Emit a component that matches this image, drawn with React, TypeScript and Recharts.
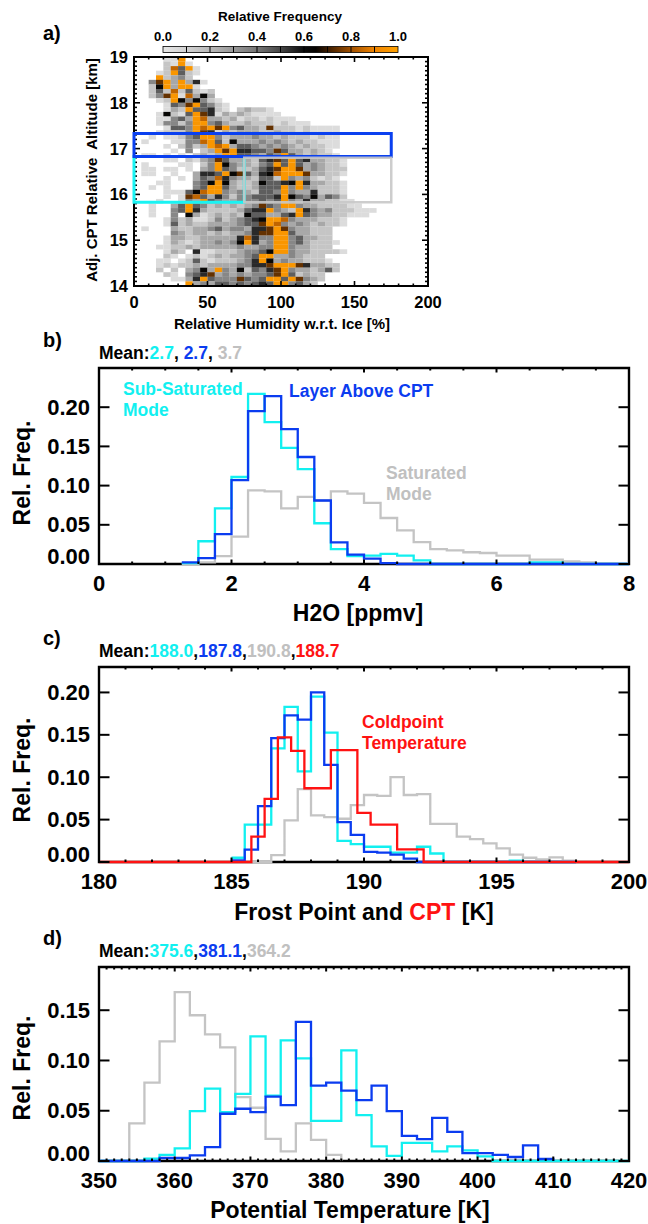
import React from 'react';
import { LineChart, Line, XAxis, YAxis, ReferenceArea, ScatterChart, Scatter } from 'recharts';

const FONT = '"Liberation Sans", Arial, Helvetica, sans-serif';
const CYAN = '#12f0f0';
const BLUE = '#0b3cf0';
const GRAY = '#c4c4c4';
const RED = '#ff1212';

// ---------- panel a: RHi vs CPT-relative altitude, row-normalised frequency ----------
const RH_CENTERS = [2.5, 7.5, 12.5, 17.5, 22.5, 27.5, 32.5, 37.5, 42.5, 47.5, 52.5, 57.5, 62.5, 67.5, 72.5, 77.5, 82.5, 87.5, 92.5, 97.5, 102.5, 107.5, 112.5, 117.5, 122.5, 127.5, 132.5, 137.5, 142.5, 147.5, 152.5, 157.5, 162.5, 167.5, 172.5, 177.5];
const ALT_CENTERS = [18.95, 18.85, 18.75, 18.65, 18.55, 18.45, 18.35, 18.25, 18.15, 18.05, 17.95, 17.85, 17.75, 17.65, 17.55, 17.45, 17.35, 17.25, 17.15, 17.05, 16.95, 16.85, 16.75, 16.65, 16.55, 16.45, 16.35, 16.25, 16.15, 16.05, 15.95, 15.85, 15.75, 15.65, 15.55, 15.45, 15.35, 15.25, 15.15, 15.05, 14.95, 14.85, 14.75, 14.65, 14.55, 14.45, 14.35, 14.25, 14.15, 14.05];
// one string per altitude row (top first), one char per RH bin: '.' empty, '1'..'a' frequency level
const HEAT_ROWS = [
  '....11a',
  '....21a1',
  '....295a1',
  '...12a521',
  '...a2342',
  '..48a3a361',
  '..27a3aa1',
  '..252925212',
  '..248a19373',
  '...12a747421',
  '....1548a5421',
  '....132a55621.23221',
  '...17215a86132321111',
  '...11453a9332312212111',
  '...14424aa45322322212111',
  '....1554a9a8a453328222121111',
  '...12224a8613233322322121111',
  '..1.11245aa42333433232221211',
  '.1...11449a52733343432322111',
  '....1.2423a9a355434343232211',
  '.....1.4.23a8a6655485332321',
  '.11.1.1.2323aa554354a5323221',
  '....11.21348533325685a5633221',
  '.1....11.24a7433245a5a5343221',
  '.11.11.1.34a54223568aa8343222',
  '.11..1..3665a7853679aaa833221',
  '....1.1.354964332552a4342121',
  '...11...457a7322375567a633221',
  '..1.1...45aa53223555a4a432221',
  '....111579aa43432554a43362221',
  '....1.18953642445556a75473542',
  '...1..143a5433444545a436332211',
  '..1..35a542323234854aa433222211',
  '..1..45a6322223566a432a6434222111',
  '..1..4.731232327553356a543322111',
  '....14231124234567aa943332221',
  '....15232233334558a9434323221',
  '.1...32233453443668a8433222',
  '.....43233232334688aa533222',
  '....133223333369644aa453322',
  '....13212334347a634aa4532221',
  '...1122323333343344aa433222',
  '....132.61122234457aa43322221',
  '....21.1212323345aa3343222',
  '...11.12521222346a734332221',
  '...1212232333344668aaa863322',
  '...2.2.3473a43725468a4332352',
  '....21.4568343434458a52322',
  '.....1136a54448545aa5a8432',
  '.......a34355454565aa4532',
];
const LEVELS: Record<string, number> = { '1': 0.05, '2': 0.15, '3': 0.25, '4': 0.35, '5': 0.45, '6': 0.55, '7': 0.63, '8': 0.74, '9': 0.84, a: 0.96 };

const COLOR_STOPS: [number, string][] = [
  [0.0, '#e6e6e6'], [0.1, '#d2d2d2'], [0.2, '#b8b8b8'], [0.3, '#989898'], [0.4, '#767676'],
  [0.5, '#464646'], [0.6, '#0c0c0c'], [0.65, '#060300'], [0.7, '#3c1c00'], [0.8, '#a05000'],
  [0.9, '#f08400'], [1.0, '#ffa200'],
];
const CB_LABELS = ['0.0', '0.2', '0.4', '0.6', '0.8', '1.0'];

// selection boxes of panel a: [rh1, rh2, alt1, alt2]
const BOX_SUB = [0, 75, 15.83, 16.83];
const BOX_ABOVE = [0, 175, 16.83, 17.33];
const BOX_SAT = [75, 175, 15.83, 16.8];

// ---------- panel b: H2O ----------
const H2O_EDGES = [1.25, 1.5, 1.75, 2, 2.25, 2.5, 2.75, 3, 3.25, 3.5, 3.75, 4, 4.25, 4.5, 4.75, 5, 5.25, 5.5, 5.75, 6, 6.25, 6.5, 6.75, 7, 7.25, 7.5, 7.75, 8];
const H2O_SUB = [0.001, 0.029, 0.071, 0.111, 0.217, 0.181, 0.148, 0.121, 0.052, 0.019, 0.010, 0.0106, 0.0128, 0.0106, 0.0047, 0, 0, 0, 0, 0, 0, 0.002, 0.002, 0, 0, 0, 0];
const H2O_ABOVE = [0.002, 0.0076, 0.038, 0.107, 0.195, 0.214, 0.172, 0.1365, 0.081, 0.0276, 0.0119, 0.0068, 0.001, 0, 0, 0, 0, 0, 0, 0, 0, 0, 0, 0, 0, 0, 0];
const H2O_SAT = [0, 0.002, 0.010, 0.035, 0.094, 0.0927, 0.071, 0.0855, 0.081, 0.0927, 0.0897, 0.078, 0.0587, 0.043, 0.028, 0.019, 0.0174, 0.015, 0.014, 0.0106, 0.0106, 0.0055, 0.0055, 0.0034, 0.002, 0.001, 0.001];
const H2O_TICKS = [0, 2, 4, 6, 8];

// ---------- panel c: frost point & CPT ----------
const FP_EDGES = [185, 185.5, 186, 186.5, 187, 187.5, 188, 188.5, 189, 189.5, 190, 190.5, 191, 191.5, 192, 192.5, 193, 193.5, 194, 194.5, 195, 195.5, 196, 196.5, 197, 197.5, 198];
const FP_SUB = [0.005, 0.044, 0.044, 0.134, 0.183, 0.107, 0.195, 0.1525, 0.025, 0.021, 0.018, 0.018, 0.011, 0.011, 0.018, 0.010, 0, 0, 0, 0, 0, 0.0015, 0, 0, 0, 0];
const FP_ABOVE = [0.002, 0.0145, 0.066, 0.146, 0.173, 0.168, 0.200, 0.1145, 0.047, 0.032, 0.012, 0.011, 0.0086, 0.004, 0, 0, 0, 0, 0, 0, 0, 0, 0, 0, 0, 0];
const FP_SAT = [0, 0, 0, 0.008, 0.049, 0.086, 0.055, 0.053, 0.051, 0.067, 0.079, 0.078, 0.100, 0.079, 0.080, 0.045, 0.045, 0.030, 0.027, 0.022, 0.016, 0.0086, 0.005, 0.003, 0.0055, 0.0015];
const CPT_EDGES = [180, 185.75, 186.25, 186.75, 187.25, 187.75, 188.25, 188.75, 189.25, 189.75, 190.25, 190.75, 191.25, 191.75, 192.25, 200];
const CPT_FREQ = [0, 0.030, 0.0745, 0.147, 0.131, 0.087, 0.087, 0.132, 0.132, 0.058, 0.044, 0.044, 0.015, 0.015, 0];
const FP_TICKS = [180, 185, 190, 195, 200];

// ---------- panel d: potential temperature ----------
const TH_EDGES = [350, 352, 354, 356, 358, 360, 362, 364, 366, 368, 370, 372, 374, 376, 378, 380, 382, 384, 386, 388, 390, 392, 394, 396, 398, 400, 402, 404, 406, 408, 410, 412, 414, 416, 418, 420];
const TH_SAT = [0, 0, 0.0375, 0.078, 0.119, 0.168, 0.145, 0.126, 0.113, 0.0635, 0.053, 0.022, 0.0095, 0.0375, 0.021, 0.006];
const TH_SUB = [0, 0, 0, 0.0023, 0.006, 0.0125, 0.0497, 0.072, 0.0487, 0.0668, 0.124, 0.065, 0.120, 0.102, 0.040, 0.040, 0.110, 0.0457, 0.0145, 0.005, 0.018, 0.018, 0.0095, 0.0145, 0.0105, 0.0046, 0, 0, 0, 0, 0, 0, 0, 0, 0];
const TH_ABOVE = [0, 0, 0, 0, 0.003, 0.003, 0.0056, 0.0138, 0.047, 0.052, 0.0487, 0.064, 0.0556, 0.1385, 0.075, 0.078, 0.070, 0.0605, 0.075, 0.0497, 0.025, 0.0217, 0.043, 0.029, 0.0079, 0.0079, 0.006, 0.004, 0.0155, 0.002];
const TH_TICKS = [350, 360, 370, 380, 390, 400, 410, 420];

const FREQ_TICKS_BC = [0, 0.05, 0.1, 0.15, 0.2];
const FREQ_TICKS_D = [0, 0.05, 0.1, 0.15];

// ---------- helpers ----------
function range(a: number, b: number, step: number) {
  const out: number[] = [];
  for (let v = a; v <= b + 1e-9; v += step) out.push(Math.round(v * 1000) / 1000);
  return out;
}

function steps(edges: number[], values: number[]) {
  const pts = values.map((v, i) => ({ x: edges[i], y: v }));
  pts.push({ x: edges[values.length], y: 0 });
  return pts;
}

function isMajor(v: number, majors: number[]) {
  return majors.some((m) => Math.abs(m - v) < 1e-6);
}

function hex(c: string) {
  return [1, 3, 5].map((i) => parseInt(c.slice(i, i + 2), 16));
}

function heatColor(v: number) {
  for (let i = 1; i < COLOR_STOPS.length; i++) {
    const [v1, c1] = COLOR_STOPS[i];
    const [v0, c0] = COLOR_STOPS[i - 1];
    if (v <= v1) {
      const t = (v - v0) / (v1 - v0);
      const a = hex(c0);
      const b = hex(c1);
      return `rgb(${a.map((x, k) => Math.round(x + (b[k] - x) * t)).join(',')})`;
    }
  }
  return COLOR_STOPS[COLOR_STOPS.length - 1][1];
}

const HEAT_CELLS = HEAT_ROWS.flatMap((row, i) =>
  row.split('').flatMap((ch, j) => (ch === '.' ? [] : [{ x: RH_CENTERS[j], y: ALT_CENTERS[i], v: LEVELS[ch] }]))
);

type TickCfg = {
  majors: number[];
  plotW: number;
  plotH: number;
  len: number;
  minorLen: number;
  fs: number;
  gap: number;
  fmt: (v: number) => string;
  zeroLift?: number;
  tw?: number;
};

function makeXTick(c: TickCfg) {
  return (props: any) => {
    const { x, y, payload } = props;
    const v = payload.value;
    const major = isMajor(v, c.majors);
    const L = major ? c.len : c.minorLen;
    const tw = c.tw ?? 2;
    return (
      <g>
        <line x1={x} y1={y} x2={x} y2={y - L} stroke="#000" strokeWidth={tw} />
        <line x1={x} y1={y - c.plotH} x2={x} y2={y - c.plotH + L} stroke="#000" strokeWidth={tw} />
        {major ? (
          <text x={x} y={y + c.gap} textAnchor="middle" dominantBaseline="central" fontFamily={FONT} fontWeight={700} fontSize={c.fs} fill="#000">
            {c.fmt(v)}
          </text>
        ) : null}
      </g>
    );
  };
}

function makeYTick(c: TickCfg) {
  return (props: any) => {
    const { x, y, payload } = props;
    const v = payload.value;
    const major = isMajor(v, c.majors);
    const L = major ? c.len : c.minorLen;
    const lift = v === 0 ? c.zeroLift ?? 0 : 0;
    const tw = c.tw ?? 2;
    return (
      <g>
        <line x1={x} y1={y} x2={x + L} y2={y} stroke="#000" strokeWidth={tw} />
        <line x1={x + c.plotW} y1={y} x2={x + c.plotW - L} y2={y} stroke="#000" strokeWidth={tw} />
        {major ? (
          <text x={x - c.gap} y={y - lift} textAnchor="end" dominantBaseline="central" fontFamily={FONT} fontWeight={700} fontSize={c.fs} fill="#000">
            {c.fmt(v)}
          </text>
        ) : null}
      </g>
    );
  };
}

const CELL_W = 7.45;
const CELL_H = 4.7;

function HeatCell(props: any) {
  const { cx, cy, payload } = props;
  if (cx == null || cy == null) return null;
  return <rect x={cx - CELL_W / 2} y={cy - CELL_H / 2} width={CELL_W} height={CELL_H} fill={heatColor(payload.v)} />;
}

function NoMark() {
  return <g />;
}

// ---------- panels ----------
const A_W = 460;
const A_H = 320;
const A_MARGIN = { top: 57, right: 32, left: 0, bottom: 0 };
const A_CORNERS = [{ x: 0, y: 14 }, { x: 200, y: 19 }];

function PanelA() {
  const plotW = 294;
  const plotH = 229;
  return (
    <div style={{ position: 'absolute', left: 0, top: 0 }}>
      <ScatterChart width={A_W} height={A_H} margin={A_MARGIN}>
        <XAxis
          type="number"
          dataKey="x"
          domain={[0, 200]}
          ticks={range(0, 200, 10)}
          interval={0}
          height={34}
          axisLine={false}
          tickLine={false}
          tickSize={0}
          tickMargin={0}
          tick={makeXTick({ majors: [0, 50, 100, 150, 200], plotW, plotH, len: 5, minorLen: 2.5, fs: 16.5, gap: 16, fmt: (v) => String(v), tw: 1.6 })}
        />
        <YAxis
          type="number"
          dataKey="y"
          domain={[14, 19]}
          ticks={range(14, 19, 0.1)}
          interval={0}
          width={134}
          axisLine={false}
          tickLine={false}
          tickSize={0}
          tickMargin={0}
          tick={makeYTick({ majors: [14, 15, 16, 17, 18, 19], plotW, plotH, len: 6, minorLen: 3, fs: 16.5, gap: 6, fmt: (v) => String(v), tw: 1.6 })}
        />
        <Scatter data={HEAT_CELLS} shape={HeatCell} isAnimationActive={false} />
      </ScatterChart>
    </div>
  );
}

// same axes as panel a, drawn on top so the frame and boxes sit over the cells
function PanelABoxes() {
  const box = (b: number[], color: string, w: number, op = 1) => (
    <ReferenceArea x1={b[0]} x2={b[1]} y1={b[2]} y2={b[3]} fill="none" stroke={color} strokeOpacity={op} strokeWidth={w} ifOverflow="visible" />
  );
  return (
    <div style={{ position: 'absolute', left: 0, top: 0, pointerEvents: 'none' }}>
      <ScatterChart width={A_W} height={A_H} margin={A_MARGIN}>
        <XAxis type="number" dataKey="x" domain={[0, 200]} ticks={[0, 200]} height={34} axisLine={false} tickLine={false} tick={NoMark} />
        <YAxis type="number" dataKey="y" domain={[14, 19]} ticks={[14, 19]} width={134} axisLine={false} tickLine={false} tick={NoMark} />
        <Scatter data={A_CORNERS} shape={NoMark} isAnimationActive={false} />
        <ReferenceArea x1={0} x2={200} y1={14} y2={19} fill="none" stroke="#000" strokeWidth={2} ifOverflow="visible" />
        {box(BOX_SUB, '#19f3f3', 3)}
        {box(BOX_ABOVE, '#0a40f0', 3)}
        {box(BOX_SAT, '#c8c8c8', 2.5, 0.9)}
      </ScatterChart>
    </div>
  );
}

type HistProps = {
  top: number;
  height: number;
  marginTop: number;
  axisH: number;
  plotH: number;
  xDomain: [number, number];
  xMajors: number[];
  xMinorStep: number;
  yMax: number;
  yMajors: number[];
  series: { pts: { x: number; y: number }[]; color: string }[];
};

function Hist({ top, height, marginTop, axisH, plotH, xDomain, xMajors, xMinorStep, yMax, yMajors, series }: HistProps) {
  const plotW = 530;
  return (
    <div style={{ position: 'absolute', left: 0, top }}>
      <LineChart width={648} height={height} margin={{ top: marginTop, right: 19, left: 0, bottom: 0 }}>
        <XAxis
          type="number"
          dataKey="x"
          domain={xDomain}
          ticks={range(xDomain[0], xDomain[1], xMinorStep)}
          interval={0}
          height={axisH}
          axisLine={false}
          tickLine={false}
          tickSize={0}
          tickMargin={0}
          tick={makeXTick({ majors: xMajors, plotW, plotH, len: 4.5, minorLen: 2.5, fs: 22, gap: 19.5, fmt: (v) => String(v) })}
        />
        <YAxis
          type="number"
          domain={[0, yMax]}
          ticks={yMajors}
          interval={0}
          width={99}
          axisLine={false}
          tickLine={false}
          tickSize={0}
          tickMargin={0}
          tick={makeYTick({ majors: yMajors, plotW, plotH, len: 10.5, minorLen: 5, fs: 22, gap: 9, fmt: (v) => v.toFixed(2), zeroLift: 7.5 })}
        />
        <ReferenceArea x1={xDomain[0]} x2={xDomain[1]} y1={0} y2={yMax} fill="none" stroke="#000" strokeWidth={2.4} ifOverflow="visible" />
        {series.map((s, i) => (
          <Line
            key={i}
            data={s.pts}
            dataKey="y"
            type="stepAfter"
            stroke={s.color}
            strokeWidth={2.3}
            dot={false}
            activeDot={false}
            isAnimationActive={false}
          />
        ))}
      </LineChart>
    </div>
  );
}

function Overlay() {
  const t = { fontFamily: FONT, fontWeight: 700 as const };
  return (
    <svg width={648} height={1224} style={{ position: 'absolute', left: 0, top: 0, pointerEvents: 'none' }}>
      <defs>
        <linearGradient id="cbar" x1="0" x2="1" y1="0" y2="0">
          {COLOR_STOPS.map(([o, c]) => (
            <stop key={o} offset={o} stopColor={c} />
          ))}
        </linearGradient>
      </defs>

      {/* panel a */}
      <text x={43} y={33} {...t} fontSize={20} dominantBaseline="central">a)</text>
      <text x={280} y={16} {...t} fontSize={13.5} textAnchor="middle" dominantBaseline="central">Relative Frequency</text>
      <rect x={163} y={46.5} width={235} height={6} fill="url(#cbar)" stroke="#000" strokeWidth={0.8} />
      {range(0.1, 0.9, 0.1).map((v) => (
        <line key={v} x1={163 + 235 * v} x2={163 + 235 * v} y1={46.5} y2={52.5} stroke="#000" strokeWidth={1} />
      ))}
      {CB_LABELS.map((l, i) => (
        <text key={l} x={163 + 47 * i} y={36} {...t} fontSize={13} textAnchor="middle" dominantBaseline="central">{l}</text>
      ))}
      <text transform="translate(91.5,170) rotate(-90)" {...t} fontSize={15} textAnchor="middle" dominantBaseline="central" style={{ whiteSpace: 'pre' }}>
        {'Adj. CPT Relative  Altitude [km]'}
      </text>
      <text x={282} y={323} {...t} fontSize={15} textAnchor="middle" dominantBaseline="central">Relative Humidity w.r.t. Ice [%]</text>

      {/* panel b */}
      <text x={43} y={340} {...t} fontSize={20} dominantBaseline="central">b)</text>
      <text x={99} y={353} {...t} fontSize={17.5} dominantBaseline="central" style={{ whiteSpace: 'pre' }}>
        <tspan fill="#000">Mean:</tspan>
        <tspan fill={CYAN}>2.7</tspan>
        <tspan fill="#000">, </tspan>
        <tspan fill={BLUE}>2.7</tspan>
        <tspan fill="#000">, </tspan>
        <tspan fill="#c0c0c0">3.7</tspan>
      </text>
      <text x={123} y={389} {...t} fontSize={17.5} fill={CYAN} dominantBaseline="central">Sub-Saturated</text>
      <text x={123} y={409.5} {...t} fontSize={17.5} fill={CYAN} dominantBaseline="central">Mode</text>
      <text x={289} y={390.5} {...t} fontSize={17.5} fill={BLUE} dominantBaseline="central">Layer Above CPT</text>
      <text x={386} y={473} {...t} fontSize={17.5} fill="#c0c0c0" dominantBaseline="central">Saturated</text>
      <text x={386} y={494} {...t} fontSize={17.5} fill="#c0c0c0" dominantBaseline="central">Mode</text>
      <text transform="translate(22,473) rotate(-90)" {...t} fontSize={23} textAnchor="middle" dominantBaseline="central">Rel. Freq.</text>
      <text x={358} y={613} {...t} fontSize={23} textAnchor="middle" dominantBaseline="central">H2O [ppmv]</text>

      {/* panel c */}
      <text x={43} y={638} {...t} fontSize={20} dominantBaseline="central">c)</text>
      <text x={99} y={651} {...t} fontSize={17.5} dominantBaseline="central">
        <tspan fill="#000">Mean:</tspan>
        <tspan fill={CYAN}>188.0</tspan>
        <tspan fill="#000">,</tspan>
        <tspan fill={BLUE}>187.8</tspan>
        <tspan fill="#000">,</tspan>
        <tspan fill="#c0c0c0">190.8</tspan>
        <tspan fill="#000">,</tspan>
        <tspan fill={RED}>188.7</tspan>
      </text>
      <text x={362} y={722} {...t} fontSize={17.5} fill={RED} dominantBaseline="central">Coldpoint</text>
      <text x={362} y={743} {...t} fontSize={17.5} fill={RED} dominantBaseline="central">Temperature</text>
      <text transform="translate(22,770) rotate(-90)" {...t} fontSize={23} textAnchor="middle" dominantBaseline="central">Rel. Freq.</text>
      <text x={364} y={912} {...t} fontSize={23} textAnchor="middle" dominantBaseline="central" style={{ whiteSpace: 'pre' }}>
        <tspan fill="#000">Frost Point and </tspan>
        <tspan fill={RED}>CPT</tspan>
        <tspan fill="#000"> [K]</tspan>
      </text>

      {/* panel d */}
      <text x={43} y={938} {...t} fontSize={20} dominantBaseline="central">d)</text>
      <text x={99} y={951} {...t} fontSize={17.5} dominantBaseline="central">
        <tspan fill="#000">Mean:</tspan>
        <tspan fill={CYAN}>375.6</tspan>
        <tspan fill="#000">,</tspan>
        <tspan fill={BLUE}>381.1</tspan>
        <tspan fill="#000">,</tspan>
        <tspan fill="#c0c0c0">364.2</tspan>
      </text>
      <text transform="translate(22,1068) rotate(-90)" {...t} fontSize={23} textAnchor="middle" dominantBaseline="central">Rel. Freq.</text>
      <text x={350} y={1210} {...t} fontSize={23} textAnchor="middle" dominantBaseline="central">Potential Temperature [K]</text>
    </svg>
  );
}

export default function App() {
  return (
    <div style={{ position: 'absolute', left: 0, top: 0, width: 648, height: 1224, background: '#fff', overflow: 'hidden' }}>
      <PanelA />
      <PanelABoxes />
      <Hist
        top={340}
        height={290}
        marginTop={28}
        axisH={66}
        plotH={196}
        xDomain={[0, 8]}
        xMajors={H2O_TICKS}
        xMinorStep={0.5}
        yMax={0.25}
        yMajors={FREQ_TICKS_BC}
        series={[
          { pts: steps(H2O_EDGES, H2O_SAT), color: GRAY },
          { pts: steps(H2O_EDGES, H2O_SUB), color: CYAN },
          { pts: steps(H2O_EDGES, H2O_ABOVE), color: BLUE },
        ]}
      />
      <Hist
        top={640}
        height={290}
        marginTop={27}
        axisH={68}
        plotH={195}
        xDomain={[180, 200]}
        xMajors={FP_TICKS}
        xMinorStep={1}
        yMax={0.23}
        yMajors={FREQ_TICKS_BC}
        series={[
          { pts: steps(FP_EDGES, FP_SAT), color: GRAY },
          { pts: steps(FP_EDGES, FP_SUB), color: CYAN },
          { pts: steps(FP_EDGES, FP_ABOVE), color: BLUE },
          { pts: steps(CPT_EDGES, CPT_FREQ), color: RED },
        ]}
      />
      <Hist
        top={940}
        height={284}
        marginTop={27}
        axisH={63}
        plotH={194}
        xDomain={[350, 420]}
        xMajors={TH_TICKS}
        xMinorStep={1}
        yMax={0.193}
        yMajors={FREQ_TICKS_D}
        series={[
          { pts: steps(TH_EDGES, TH_SAT), color: GRAY },
          { pts: steps(TH_EDGES, TH_SUB), color: CYAN },
          { pts: steps(TH_EDGES, TH_ABOVE), color: BLUE },
        ]}
      />
      <Overlay />
    </div>
  );
}
